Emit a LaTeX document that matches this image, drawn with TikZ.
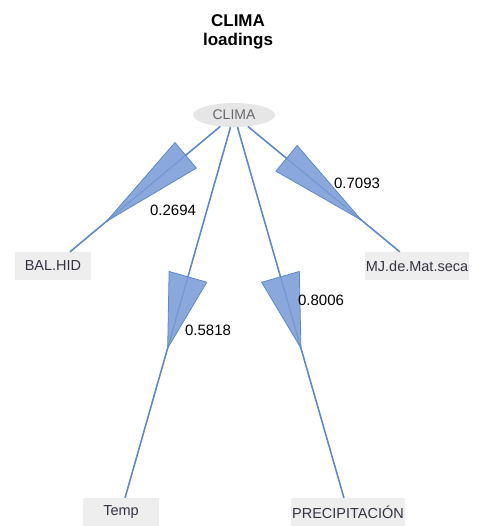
\documentclass[tikz,border=0pt]{standalone}
\usepackage{fontspec}
\setmainfont{Liberation Sans}
\usetikzlibrary{arrows.meta, shapes.geometric, decorations.markings}
\definecolor{edgeblue}{RGB}{92,136,204}
\definecolor{headblue}{RGB}{138,168,220}
\definecolor{boxgray}{RGB}{238,238,238}
\definecolor{latgray}{RGB}{230,230,230}
\definecolor{txtgray}{RGB}{52,52,64}

\begin{document}
\begin{tikzpicture}[x=1pt, y=-1pt,
    latent/.style={ellipse, fill=latgray, minimum width=82pt, minimum height=24pt,
      inner sep=0pt, text=txtgray!75, font=\fontsize{14}{16}\selectfont},
    manifest/.style={rectangle, fill=boxgray, minimum width=76pt, minimum height=28pt,
      inner sep=1pt, text=txtgray, font=\fontsize{14.5}{16}\selectfont},
    loading/.style={draw=edgeblue, line width=1.5pt},
    weight/.style={font=\fontsize{15}{17}\selectfont, inner sep=0pt},
    title/.style={font=\fontsize{17}{19}\selectfont\bfseries, inner sep=0pt, anchor=base},
  ]
  \useasboundingbox (0,0) rectangle (478,526);
  \node[title] (ttl1) at (238,27) {CLIMA};
  \node[title] (ttl2) at (238,46) {loadings};
  \node[latent] (clima) at (234,115) {CLIMA};
  \node[manifest] (balhid) at (53,266) {BAL.HID};
  \node[manifest] (mjseca) at (417,266) {MJ.de.Mat.seca};
  \node[manifest] (temp) at (121,512) {Temp};
  \node[manifest] (precip) at (348,512) {PRECIPITACIÓN};
  % loadings, head centred on each edge
  \foreach \tgt/\tip/\len/\wid in {balhid/0.77/106/34, mjseca/0.76/100/34,
                                   temp/0.6/76/40, precip/0.6/76/40} {
    \draw[loading,
      postaction={decorate, decoration={markings, mark=at position \tip with
        {\arrow{Triangle[length=\len pt, width=\wid pt, fill=headblue, line width=0.8pt]}}}},
      postaction={draw=edgeblue, draw opacity=0.5, line width=1.2pt}] (clima) -- (\tgt);
  }
  \node[weight] (w1) at (173,210) {0.2694};
  \node[weight] (w2) at (357,183) {0.7093};
  \node[weight] (w3) at (208,330) {0.5818};
  \node[weight] (w4) at (321,300) {0.8006};
\end{tikzpicture}
\end{document}
